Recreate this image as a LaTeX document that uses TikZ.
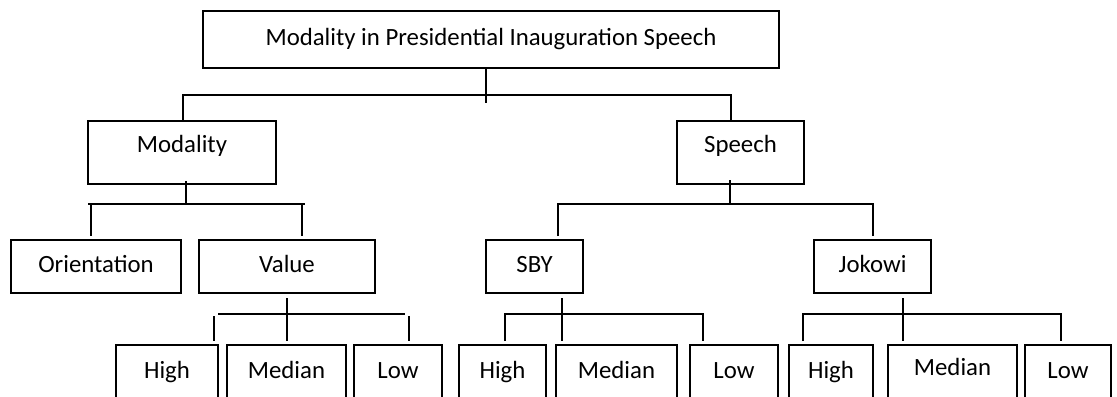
\documentclass[tikz,border=0pt]{standalone}
\usepackage{fontspec}
\setmainfont{Carlito}
\begin{document}
\begin{tikzpicture}[x=0.5pt,y=-0.5pt,
  box/.style={draw,line width=1pt,inner sep=0pt,font=\fontsize{12.4}{14}\selectfont,text height=0.64em,text depth=0pt,align=center},
  upper/.style={text depth=6.5pt},
  conn/.style={line width=1pt}]
\useasboundingbox (0,0) rectangle (1117,396);
\clip (0,0) rectangle (1117,396);
% level 0
\node[box,minimum width=288pt,minimum height=28.5pt] (top) at (491,39.5) {Modality in Presidential Inauguration Speech};
% level 1
\node[box,upper,minimum width=94pt,minimum height=31.5pt] (mod) at (182,152.5) {Modality};
\node[box,upper,minimum width=63.5pt,minimum height=31.5pt] (spe) at (740.5,152.5) {Speech};
% level 2
\node[box,minimum width=85pt,minimum height=26.5pt] (ori) at (96,266.5) {Orientation};
\node[box,minimum width=88pt,minimum height=26.5pt] (val) at (287,266.5) {Value};
\node[box,minimum width=48.5pt,minimum height=26.5pt] (sby) at (534.5,266.5) {SBY};
\node[box,minimum width=58.5pt,minimum height=26.5pt] (jok) at (872.5,266.5) {Jokowi};
% level 3
\node[box,minimum width=51pt,minimum height=27.5pt] (h1) at (167,372.5) {High};
\node[box,minimum width=59.5pt,minimum height=27.5pt] (m1) at (286.5,372.5) {Median};
\node[box,minimum width=44pt,minimum height=27.5pt] (l1) at (398,372.5) {Low};
\node[box,minimum width=43.5pt,minimum height=27.5pt] (h2) at (502.5,372.5) {High};
\node[box,minimum width=60.5pt,minimum height=27.5pt] (m2) at (616.5,372.5) {Median};
\node[box,minimum width=44pt,minimum height=27.5pt] (l2) at (734,372.5) {Low};
\node[box,minimum width=42pt,minimum height=27.5pt] (h3) at (831,372.5) {High};
\node[box,text depth=3.5pt,minimum width=64.5pt,minimum height=27.5pt] (m3) at (952.5,372.5) {Median};
\node[box,minimum width=43pt,minimum height=27.5pt] (l3) at (1068,372.5) {Low};
% connector coordinates
\coordinate (s0) at (486,103);
\coordinate (b0L) at (183,94.5);
\coordinate (b0R) at (731,94.5);
\coordinate (s1) at (186,181);
\coordinate (b1L) at (88,204);
\coordinate (b1R) at (305,204);
\coordinate (e1a) at (91,236);
\coordinate (e1b) at (302,236);
\coordinate (s2) at (730,180);
\coordinate (b2L) at (558,204);
\coordinate (b2R) at (873,204);
\coordinate (e2a) at (558,236);
\coordinate (e2b) at (873,236);
\coordinate (s3) at (287,341);
\coordinate (b3L) at (218,314);
\coordinate (b3R) at (405,314);
\coordinate (e3a) at (214,341);
\coordinate (e3b) at (409,341);
\coordinate (s4) at (562,341);
\coordinate (e4a) at (505,341);
\coordinate (e4b) at (703,341);
\coordinate (b4) at (0,314);
\coordinate (s5) at (903,341);
\coordinate (e5a) at (803,341);
\coordinate (e5b) at (1061,341);
% top level
\draw[conn] (s0 |- top.south) -- (s0);
\draw[conn] (b0L |- mod.north) -- (b0L) -- (b0R) -- (b0R |- spe.north);
% Modality
\draw[conn] (s1) -- (s1 |- b1L);
\draw[conn] (b1L) -- (b1R);
\draw[conn] (e1a |- b1L) -- (e1a);
\draw[conn] (e1b |- b1L) -- (e1b);
% Speech
\draw[conn] (s2) -- (s2 |- b2L);
\draw[conn] (e2a) -- (b2L) -- (b2R) -- (e2b);
% Value
\draw[conn] ([yshift=-2pt]s3 |- val.south) -- (s3);
\draw[conn] (b3L) -- (b3R);
\draw[conn] (e3a |- 0,316) -- (e3a);
\draw[conn] (e3b |- 0,316) -- (e3b);
% SBY
\draw[conn] ([yshift=-2pt]s4 |- sby.south) -- (s4);
\draw[conn] (e4a) -- (e4a |- b4) -- (e4b |- b4) -- (e4b);
% Jokowi
\draw[conn] ([yshift=-2pt]s5 |- jok.south) -- (s5);
\draw[conn] (e5a) -- (e5a |- b4) -- (e5b |- b4) -- (e5b);
\end{tikzpicture}
\end{document}
